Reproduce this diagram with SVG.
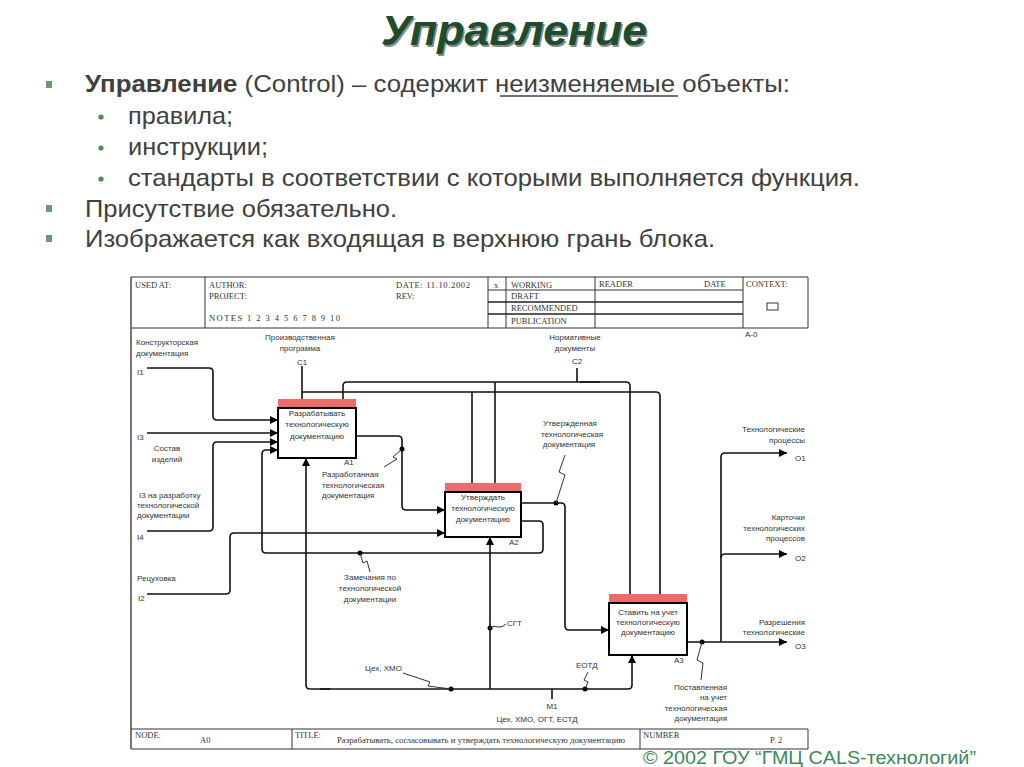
<svg xmlns="http://www.w3.org/2000/svg" width="1024" height="767" viewBox="0 0 1024 767">
<defs>
<style>
.t{font-family:"Liberation Sans",Arial,sans-serif;font-size:8px;fill:#333}
.c{text-anchor:middle}
.r{text-anchor:end}
.h{font-family:"Liberation Serif","Times New Roman",serif;font-size:8.5px;fill:#333}
.b{font-family:"Liberation Sans",Arial,sans-serif;font-size:24px;fill:#404040}
.ln{fill:none;stroke:#111;stroke-width:1.6}
.fr{fill:none;stroke:#333;stroke-width:1}
.sq{fill:none;stroke:#333;stroke-width:1}
.box{fill:#fff;stroke:#000;stroke-width:2}
.band{fill:#ec6b6b}
</style>
<marker id="ab" viewBox="0 0 10 10" refX="10" refY="5" markerWidth="9" markerHeight="8" markerUnits="userSpaceOnUse" orient="auto"><path d="M0,0L10,5L0,10z" fill="#000"/></marker>
<marker id="ar" viewBox="0 0 10 10" refX="10" refY="5" markerWidth="9" markerHeight="8" markerUnits="userSpaceOnUse" orient="auto"><path d="M0,0L10,5L0,10z" fill="#8b1010"/></marker>
</defs>
<rect width="1024" height="767" fill="#fff"/>

<g id="title">
<text x="515.5" y="46.5" text-anchor="middle" font-family="Liberation Sans,Arial,sans-serif" font-weight="bold" font-style="italic" font-size="42" fill="#8a8a8a" textLength="266" lengthAdjust="spacingAndGlyphs">Управление</text>
<text x="514" y="45" text-anchor="middle" font-family="Liberation Sans,Arial,sans-serif" font-weight="bold" font-style="italic" font-size="42" fill="#1b4d2e" textLength="266" lengthAdjust="spacingAndGlyphs">Управление</text>
</g>

<g id="bullets">
<rect x="46" y="81" width="6" height="7" fill="#6a9a70"/>
<rect x="46" y="205" width="6" height="7" fill="#6a9a70"/>
<rect x="46" y="235" width="6" height="7" fill="#6a9a70"/>
<circle cx="101" cy="117" r="2.6" fill="#4f8a57"/>
<circle cx="101" cy="148" r="2.6" fill="#4f8a57"/>
<circle cx="101" cy="179" r="2.6" fill="#4f8a57"/>
<text class="b" x="85" y="92" textLength="705" lengthAdjust="spacingAndGlyphs"><tspan font-weight="bold">Управление</tspan> (Control) –  содержит неизменяемые объекты:</text>
<line x1="500" y1="96" x2="678" y2="96" stroke="#404040" stroke-width="1.5"/>
<text class="b" x="128" y="124" textLength="105" lengthAdjust="spacingAndGlyphs">правила;</text>
<text class="b" x="128" y="155" textLength="140" lengthAdjust="spacingAndGlyphs">инструкции;</text>
<text class="b" x="128" y="186" textLength="732" lengthAdjust="spacingAndGlyphs">стандарты в соответствии с которыми выполняется функция.</text>
<text class="b" x="85" y="217" textLength="312" lengthAdjust="spacingAndGlyphs">Присутствие обязательно.</text>
<text class="b" x="85" y="247" textLength="630" lengthAdjust="spacingAndGlyphs">Изображается как входящая в верхнюю грань блока.</text>
</g>

<g id="frame">
<line x1="131" y1="277" x2="131" y2="749" stroke="#777" stroke-width="2"/>
<line x1="131" y1="277" x2="808" y2="277" class="fr"/>
<line x1="131" y1="328" x2="808" y2="328" class="fr"/>
<line x1="808" y1="277" x2="808" y2="328" class="fr"/>
<line x1="205" y1="277" x2="205" y2="328" class="fr"/>
<line x1="488" y1="277" x2="488" y2="328" class="fr"/>
<line x1="506" y1="277" x2="506" y2="328" class="fr"/>
<line x1="595" y1="277" x2="595" y2="328" class="fr"/>
<line x1="743" y1="277" x2="743" y2="328" class="fr"/>
<line x1="488" y1="290" x2="743" y2="290" class="fr"/>
<line x1="488" y1="302" x2="743" y2="302" stroke="#222" stroke-width="1.6"/>
<line x1="488" y1="314" x2="743" y2="314" stroke="#222" stroke-width="1.6"/>
<rect x="767" y="303" width="11" height="7" class="fr"/>
<text class="h" x="135" y="288">USED AT:</text>
<text class="h" x="209" y="288">AUTHOR:</text>
<text class="h" x="209" y="299">PROJECT:</text>
<text class="h" x="209" y="321" textLength="131" lengthAdjust="spacing">NOTES  1  2  3  4  5  6  7  8  9  10</text>
<text class="h" x="396" y="288" textLength="74" lengthAdjust="spacing">DATE:  11.10.2002</text>
<text class="h" x="396" y="299">REV:</text>
<text class="h" x="494" y="288">x</text>
<text class="h" x="511" y="288">WORKING</text>
<text class="h" x="511" y="299">DRAFT</text>
<text class="h" x="511" y="311">RECOMMENDED</text>
<text class="h" x="511" y="324">PUBLICATION</text>
<text class="h" x="599" y="287">READER</text>
<text class="h" x="704" y="287">DATE</text>
<text class="h" x="746" y="287">CONTEXT:</text>
<text class="t" x="745" y="337">A-0</text>
<line x1="131" y1="729" x2="808" y2="729" class="fr"/>
<line x1="131" y1="749" x2="808" y2="749" class="fr"/>
<line x1="292" y1="729" x2="292" y2="749" class="fr"/>
<line x1="640" y1="729" x2="640" y2="749" class="fr"/>
<line x1="808" y1="729" x2="808" y2="749" class="fr"/>
<text class="h" x="135" y="738">NODE:</text>
<text class="h" x="200" y="743">A0</text>
<text class="h" x="295" y="738">TITLE:</text>
<text class="h" x="337" y="743" textLength="288" lengthAdjust="spacingAndGlyphs">Разрабатывать, согласовывать и утверждать технологическую документацию</text>
<text class="h" x="643" y="738">NUMBER</text>
<text class="h" x="770" y="743">Р. 2</text>
</g>

<g id="connectors">
<path class="ln" d="M302,366 V408" marker-end="url(#ar)"/>
<path class="ln" d="M302,392 H656 Q660,392 660,396 V603" marker-end="url(#ar)"/>
<path class="ln" d="M472,392 V492" marker-end="url(#ar)"/>
<path class="ln" d="M577,368 V382"/>
<path class="ln" d="M600,382 H347 Q343,382 343,386 V408" marker-end="url(#ar)"/>
<path class="ln" d="M580,382 H626 Q630,382 630,386 V603" marker-end="url(#ar)"/>
<path class="ln" d="M495,382 V492" marker-end="url(#ar)"/>
<path class="ln" d="M147,368 H209 Q213,368 213,372 V416 Q213,420 217,420 H278" marker-end="url(#ab)"/>
<path class="ln" d="M147,433 H278" marker-end="url(#ab)"/>
<path class="ln" d="M147,531 H209 Q213,531 213,527 V446 Q213,442 217,442 H278" marker-end="url(#ab)"/>
<path class="ln" d="M521,521 H539 Q543,521 543,525 V549 Q543,553 539,553 H266 Q262,553 262,549 V454 Q262,450 266,450 H278" marker-end="url(#ab)"/>
<path class="ln" d="M356,436 H398 Q402,436 402,440 V506 Q402,510 406,510 H445" marker-end="url(#ab)"/>
<path class="ln" d="M147,594 H226 Q230,594 230,590 V537 Q230,533 234,533 H445" marker-end="url(#ab)"/>
<path class="ln" d="M521,503 H561 Q565,503 565,507 V626 Q565,630 569,630 H609" marker-end="url(#ab)"/>
<path class="ln" d="M330,689 H310 Q306,689 306,685 V458" marker-end="url(#ab)"/>
<path class="ln" d="M320,689 H628 Q632,689 632,685 V655" marker-end="url(#ab)"/>
<path class="ln" d="M490,689 V537" marker-end="url(#ab)"/>
<path class="ln" d="M552,689 V699"/>
<path class="ln" d="M687,642 H787" marker-end="url(#ab)"/>
<path class="ln" d="M721,642 V457 Q721,453 725,453 H787" marker-end="url(#ab)"/>
<path class="ln" d="M721,558 Q721,554 725,554 H787" marker-end="url(#ab)"/>
<g fill="#000">
<circle cx="402" cy="449" r="2.5"/>
<circle cx="360" cy="553" r="2.5"/>
<circle cx="556" cy="503" r="2.5"/>
<circle cx="490" cy="628" r="2.5"/>
<circle cx="451" cy="689" r="2.5"/>
<circle cx="585" cy="689" r="2.5"/>
<circle cx="702" cy="642" r="2.5"/>
</g>
<path class="sq" d="M402,449 L393,457 L397,459 L384,467"/>
<path class="sq" d="M360,553 L363,563 L367,561 L370,572"/>
<path class="sq" d="M565,455 L559,472 L565,475 L556,503"/>
<path class="sq" d="M490,628 Q494,625 498,627 Q502,628 506,624"/>
<path class="sq" d="M403,673 L430,682 L428,686 L451,689"/>
<path class="sq" d="M588,672 L584,680 L588,682 L585,689"/>
<path class="sq" d="M702,642 L697,660 L703,663 L701,680"/>
</g>

<g id="A1">
<rect class="band" x="278" y="399" width="78" height="9"/>
<rect class="box" x="278" y="408" width="78" height="50"/>
<text class="t c" x="317" y="416">Разрабатывать</text>
<text class="t c" x="317" y="427">технологическую</text>
<text class="t c" x="317" y="439">документацию</text>
<text class="t" x="344" y="465">A1</text>
</g>
<g id="A2">
<rect class="band" x="445" y="483" width="76" height="9"/>
<rect class="box" x="445" y="492" width="76" height="45"/>
<text class="t c" x="483" y="500">Утверждать</text>
<text class="t c" x="483" y="511">технологическую</text>
<text class="t c" x="483" y="522">документацию</text>
<text class="t" x="509" y="545">A2</text>
</g>
<g id="A3">
<rect class="band" x="609" y="594" width="78" height="9"/>
<rect class="box" x="609" y="603" width="78" height="52"/>
<text class="t c" x="648" y="615">Ставить на учет</text>
<text class="t c" x="648" y="625">технологическую</text>
<text class="t c" x="648" y="635">документацию</text>
<text class="t" x="674" y="663">A3</text>
</g>

<g id="labels">
<text class="t" x="136" y="345">Конструкторская</text>
<text class="t" x="136" y="356">документация</text>
<text class="t" x="137" y="375">I1</text>
<text class="t c" x="300" y="340">Производственная</text>
<text class="t c" x="300" y="351">программа</text>
<text class="t c" x="302" y="365">C1</text>
<text class="t" x="137" y="440">I3</text>
<text class="t c" x="167" y="451">Состав</text>
<text class="t c" x="167" y="462">изделий</text>
<text class="t" x="139" y="498">I3 на разработку</text>
<text class="t" x="137" y="508">технологической</text>
<text class="t" x="137" y="518">документации</text>
<text class="t" x="137" y="540">I4</text>
<text class="t" x="137" y="581">Рецуховка</text>
<text class="t" x="138" y="601">I2</text>
<text class="t c" x="575" y="340">Нормативные</text>
<text class="t c" x="575" y="351">документы</text>
<text class="t c" x="577" y="364">C2</text>
<text class="t c" x="570" y="426">Утвержденная</text>
<text class="t c" x="572" y="437">технологическая</text>
<text class="t c" x="569" y="447">документация</text>
<text class="t" x="322" y="477">Разработанная</text>
<text class="t" x="322" y="488">технологическая</text>
<text class="t" x="322" y="498">документация</text>
<text class="t c" x="370" y="580">Замечания по</text>
<text class="t c" x="370" y="591">технологической</text>
<text class="t c" x="370" y="602">документации</text>
<text class="t" x="507" y="626">СГТ</text>
<text class="t" x="365" y="671">Цех, ХМО</text>
<text class="t" x="576" y="668">ЕОТД</text>
<text class="t c" x="552" y="709">M1</text>
<text class="t c" x="537" y="722">Цех, ХМО, ОГТ, ЕСТД</text>
<text class="t r" x="727" y="690">Поставленная</text>
<text class="t r" x="727" y="700">на учет</text>
<text class="t r" x="727" y="711">технологическая</text>
<text class="t r" x="727" y="721">документация</text>
<text class="t r" x="805" y="432">Технологические</text>
<text class="t r" x="805" y="443">процессы</text>
<text class="t" x="795" y="461">O1</text>
<text class="t r" x="805" y="520">Карточки</text>
<text class="t r" x="805" y="531">технологических</text>
<text class="t r" x="805" y="541">процессов</text>
<text class="t" x="795" y="561">O2</text>
<text class="t r" x="805" y="625">Разрешения</text>
<text class="t r" x="805" y="635">технологические</text>
<text class="t" x="795" y="649">O3</text>
</g>

<text x="643" y="764" font-family="Liberation Sans,Arial,sans-serif" font-size="19" fill="#3b8a56" textLength="333" lengthAdjust="spacingAndGlyphs">© 2002 ГОУ “ГМЦ CALS-технологий”</text>
</svg>
